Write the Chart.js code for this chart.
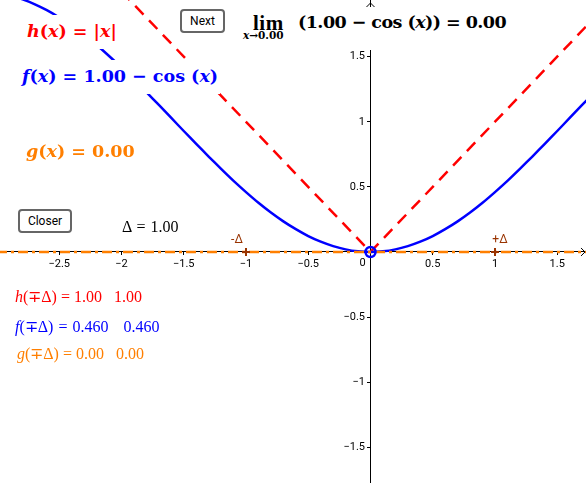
<!DOCTYPE html>
<html>
<head>
<meta charset="utf-8">
<title>lim (1 - cos x)</title>
<script src="https://cdn.jsdelivr.net/npm/chart.js@4/dist/chart.umd.min.js"></script>
<style>
html, body { margin: 0; padding: 0; background: #fff; overflow: hidden; }
#wrap { position: relative; width: 586px; height: 483px; }
canvas { position: absolute; left: 0; top: 0; }
.lbl { position: absolute; background: #fff; white-space: pre; font-family: "Liberation Serif", serif; line-height: 1; }
.big { font-family: "DejaVu Serif", serif; font-weight: bold; font-size: 17.5px; }
.small { background: transparent; font-size: 16px; }
.btn { position: absolute; box-sizing: border-box; background: #fff; border: 2px solid #666; border-radius: 4px;
    font: 12px Roboto, sans-serif; color: #000; padding: 0; text-align: center; }
</style>
</head>
<body>
<div id="wrap">
    <canvas id="grafico" width="586" height="483"></canvas>

    <div class="lbl big" style="left:0;top:15px;width:119px;height:34px;line-height:32px;padding-left:27px;box-sizing:border-box;color:#f00;overflow:hidden"><i>h</i>(<i>x</i>) = |<i>x</i>|</div>
    <div class="lbl big" style="left:0;top:60px;width:220px;height:34px;line-height:32px;padding-left:22px;box-sizing:border-box;color:#00f"><i>f</i>(<i>x</i>) = 1.00 − cos (<i>x</i>)</div>
    <div class="lbl big" style="left:26px;top:143px;color:#ff7f00"><i>g</i>(<i>x</i>) = 0.00</div>

    <div class="lbl" style="left:242px;top:7px;width:268px;height:43px"></div>
    <div class="lbl" style="left:253px;top:13px;font-size:21px;font-weight:bold;letter-spacing:.5px">lim</div>
    <div class="lbl" style="left:243px;top:30px;font-family:'DejaVu Serif',serif;font-size:10.5px;font-weight:bold"><i>x</i>→0.00</div>
    <div class="lbl big" style="left:298px;top:14px;letter-spacing:-.55px">(1.00 − cos (<i>x</i>)) = 0.00</div>

    <div class="lbl small" style="left:122px;top:219px;color:#000;word-spacing:1px">Δ = 1.00</div>
    <div class="lbl small" style="left:15px;top:289px;color:#f00"><i>h</i>(∓Δ) = 1.00   1.00</div>
    <div class="lbl small" style="left:15px;top:319px;color:#00f;word-spacing:1px"><i>f</i>(∓Δ) = 0.460   0.460</div>
    <div class="lbl small" style="left:17px;top:346px;color:#ff7f00"><i>g</i>(∓Δ) = 0.00   0.00</div>

    <button class="btn" style="left:180px;top:9px;width:45px;height:24px">Next</button>
    <button class="btn" style="left:18px;top:209px;width:54px;height:24px">Closer</button>
</div>

<script>
const xTicks = [-2.5, -2, -1.5, -1, -0.5, 0, 0.5, 1, 1.5];
const yTicks = [-1.5, -1, -0.5, 0.5, 1, 1.5];

const curvaX = [-2.9, -2.8, -2.7, -2.6, -2.5, -2.4, -2.3, -2.2, -2.1, -2, -1.9, -1.8, -1.7, -1.6, -1.5, -1.4, -1.3, -1.2, -1.1, -1, -0.9, -0.8, -0.7, -0.6, -0.5, -0.4, -0.3, -0.2, -0.1, 0, 0.1, 0.2, 0.3, 0.4, 0.5, 0.6, 0.7, 0.8, 0.9, 1, 1.1, 1.2, 1.3, 1.4, 1.5, 1.6, 1.7, 1.8];
const curvaF = [1.971, 1.942, 1.904, 1.857, 1.801, 1.737, 1.666, 1.589, 1.505, 1.416, 1.323, 1.227, 1.129, 1.029, 0.929, 0.83, 0.733, 0.638, 0.546, 0.46, 0.378, 0.303, 0.235, 0.175, 0.122, 0.079, 0.045, 0.02, 0.005, 0, 0.005, 0.02, 0.045, 0.079, 0.122, 0.175, 0.235, 0.303, 0.378, 0.46, 0.546, 0.638, 0.733, 0.83, 0.929, 1.029, 1.129, 1.227];

const rectaX = [-3, 0, 1.8];
const rectaH = [3, 0, 1.8];
const rectaG = [0, 0, 0];

const deltaX = [-1, 1];
const deltaY = [0, 0];
const deltaLabels = ['-Δ', '+Δ'];

const origenX = [0];
const origenY = [0];

const ROJO = '#ff0000', AZUL = '#0000ff', NARANJA = '#ff7f00', MARRON = '#993300';

const pares = (xs, ys) => xs.map((x, i) => ({ x, y: ys[i] }));
const menos = (v) => String(v).replace('-', '−');

// los ejes van por dentro del grafico: que no reserven lugar
const sinMargen = (eje) => {
    eje.paddingTop = eje.paddingBottom = eje.paddingLeft = eje.paddingRight = 0;
    if (eje.axis === 'x') eje.height = 0; else eje.width = 0;
};

// flechas de los ejes, el 0 y las etiquetas de los puntos
const extras = {
    id: 'extras',
    afterDatasetsDraw(chart) {
        const { ctx, scales: { x, y } } = chart;
        const x0 = x.getPixelForValue(0), y0 = y.getPixelForValue(0);
        ctx.save();
        ctx.strokeStyle = '#000';
        ctx.lineWidth = 1;
        ctx.beginPath();
        ctx.moveTo(x.right - 5, y0 - 4); ctx.lineTo(x.right - 1, y0); ctx.lineTo(x.right - 5, y0 + 4);
        ctx.moveTo(x0 - 4, 7); ctx.lineTo(x0, 3); ctx.lineTo(x0 + 4, 7);
        ctx.stroke();

        ctx.font = '11px Roboto';
        ctx.fillStyle = '#000';
        ctx.textAlign = 'center';
        ctx.textBaseline = 'middle';
        ctx.fillText('0', x0 - 8, y0 + 11);

        ctx.font = '12px Roboto';
        ctx.fillStyle = MARRON;
        deltaX.forEach((v, i) => {
            const dx = v < 0 ? -9 : 5;
            ctx.fillText(deltaLabels[i], x.getPixelForValue(v) + dx, y0 - 12);
        });
        ctx.restore();
    }
};

new Chart(document.getElementById('grafico'), {
    type: 'scatter',
    data: {
        datasets: [
            { data: pares(rectaX, rectaH), showLine: true, borderColor: ROJO, borderWidth: 2.5, borderDash: [12, 8], pointRadius: 0, order: 5 },
            { data: pares(curvaX, curvaF), showLine: true, borderColor: AZUL, borderWidth: 2.5, tension: 0.2, pointRadius: 0, order: 4 },
            { data: pares(rectaX, rectaG), showLine: true, borderColor: NARANJA, borderWidth: 2.5, borderDash: [10, 4, 3, 4], pointRadius: 0, order: 3 },
            { data: pares(deltaX, deltaY), pointStyle: 'cross', pointRadius: 4, pointBorderWidth: 2, borderColor: MARRON, backgroundColor: MARRON, order: 2 },
            { data: pares(origenX, origenY), pointStyle: 'circle', pointRadius: 5, borderWidth: 2.5, borderColor: AZUL, backgroundColor: 'transparent', order: 1 }
        ]
    },
    options: {
        responsive: false,
        animation: false,
        devicePixelRatio: 1,
        layout: { padding: 0, autoPadding: false },
        plugins: { legend: { display: false }, tooltip: { enabled: false }, title: { display: false } },
        scales: {
            x: {
                type: 'linear',
                position: { y: 0 },
                min: -2.976,
                max: 1.731,
                afterFit: sinMargen,
                afterBuildTicks: (eje) => { eje.ticks = xTicks.map(value => ({ value })); },
                grid: { drawOnChartArea: false, drawTicks: true, tickLength: 3, color: '#000' },
                border: { color: '#000', width: 1 },
                ticks: {
                    autoSkip: false, maxRotation: 0, padding: 3, color: '#000',
                    font: { family: 'Roboto', size: 11 },
                    callback: (v) => v === 0 ? '' : menos(v)
                }
            },
            y: {
                type: 'linear',
                position: { x: 0 },
                min: -1.774,
                max: 1.935,
                afterFit: sinMargen,
                afterBuildTicks: (eje) => { eje.ticks = yTicks.map(value => ({ value })); },
                grid: { drawOnChartArea: false, drawTicks: true, tickLength: 3, color: '#000' },
                border: { color: '#000', width: 1 },
                ticks: {
                    autoSkip: false, color: '#000',
                    font: { family: 'Roboto', size: 11 },
                    // con posicion {x:0} el padding no se aplica
                    callback: (v) => menos(v) + '\u00a0\u00a0'
                }
            }
        }
    },
    plugins: [extras]
});
</script>
</body>
</html>
